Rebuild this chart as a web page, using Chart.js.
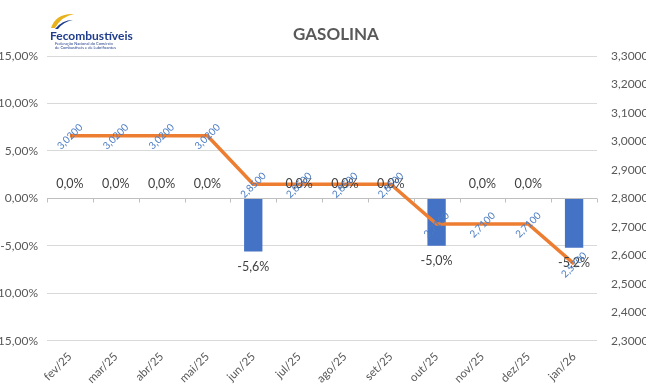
<!DOCTYPE html>
<html>
<head>
<meta charset="utf-8">
<script src="https://cdn.jsdelivr.net/npm/chart.js@4/dist/chart.umd.min.js"></script>
<style>
  body { margin: 0; background: #fff; }
  #wrap { width: 646px; height: 391px; position: relative; }
</style>
</head>
<body>
<div id="wrap"><canvas id="chart" width="646" height="391"></canvas></div>
<script>
// dados do grafico
const meses = ['fev/25','mar/25','abr/25','mai/25','jun/25','jul/25','ago/25','set/25','out/25','nov/25','dez/25','jan/26'];
const variacao = [0, 0, 0, 0, -5.6, 0, 0, 0, -5.0, 0, 0, -5.2];   // % (eixo esquerdo)
const preco = [3.02, 3.02, 3.02, 3.02, 2.85, 2.85, 2.85, 2.85, 2.71, 2.71, 2.71, 2.57]; // R$ (eixo direito)
const titulo = 'GASOLINA';

const FONT = 'Lato, "Open Sans", sans-serif';
const cinza = '#595959';

function virgula(v, d){ return v.toFixed(d).replace('.', ','); }

// logo + titulo
const cabecalho = {
  id: 'cabecalho',
  afterDraw(chart){
    const c = chart.ctx;
    c.save();
    // titulo
    c.fillStyle = cinza;
    c.font = 'bold 17px ' + FONT;
    c.textAlign = 'center';
    c.textBaseline = 'middle';
    c.fillText(titulo, 336, 35);
    // logo
    c.beginPath();
    c.moveTo(51, 28);
    c.quadraticCurveTo(56, 13, 74, 14);
    c.quadraticCurveTo(62, 16, 55, 28);
    c.closePath();
    c.fillStyle = '#e8b21c';
    c.fill();
    c.beginPath();
    c.moveTo(55, 29);
    c.quadraticCurveTo(62, 20, 73, 20);
    c.quadraticCurveTo(63, 22, 58, 29);
    c.closePath();
    c.fillStyle = '#1f3d8c';
    c.fill();
    c.fillStyle = '#1f3d8c';
    c.font = 'bold 12px ' + FONT;
    c.textAlign = 'left';
    c.textBaseline = 'alphabetic';
    c.fillText('Fecombustíveis', 50, 40);
    c.font = '4px ' + FONT;
    c.fillText('Federação Nacional do Comércio', 55, 45);
    c.fillText('de Combustíveis e de Lubrificantes', 55, 49);
    c.restore();
  }
};

// eixo no zero com marcas
const eixoZero = {
  id: 'eixoZero',
  beforeDatasetsDraw(chart){
    const c = chart.ctx, a = chart.chartArea;
    const y = Math.round(chart.scales.y.getPixelForValue(0)) + 0.5;
    const passo = (a.right - a.left) / meses.length;
    c.save();
    c.strokeStyle = '#bfbfbf';
    c.lineWidth = 1;
    c.beginPath();
    c.moveTo(a.left, y); c.lineTo(a.right, y);
    for (let i = 0; i <= meses.length; i++){
      const xx = Math.round(a.left + i * passo) + 0.5;
      c.moveTo(xx, y); c.lineTo(xx, y + 4);
    }
    c.stroke();
    c.restore();
  }
};

// rotulos de dados
const rotulos = {
  id: 'rotulos',
  afterDatasetsDraw(chart){
    const c = chart.ctx;
    c.save();
    // barras
    const mb = chart.getDatasetMeta(0);
    c.fillStyle = '#404040';
    c.font = '12.5px ' + FONT;
    c.textAlign = 'center';
    c.textBaseline = 'middle';
    mb.data.forEach((el, i) => {
      const v = variacao[i];
      const y = v < 0 ? el.y + 15 : el.y - 14;
      c.fillText(virgula(v, 1) + '%', el.x, y);
    });
    // linha
    const ml = chart.getDatasetMeta(1);
    c.fillStyle = '#4a7cc4';
    c.font = '10px ' + FONT;
    ml.data.forEach((el, i) => {
      c.save();
      c.translate(el.x, el.y + 1);
      c.rotate(-Math.PI / 4);
      c.fillText(virgula(preco[i], 4), 0, 0);
      c.restore();
    });
    c.restore();
  }
};

new Chart(document.getElementById('chart'), {
  data: {
    labels: meses,
    datasets: [
      {
        type: 'bar',
        data: variacao,
        backgroundColor: '#4472c4',
        yAxisID: 'y',
        barPercentage: 0.8,
        categoryPercentage: 0.5,
        order: 2
      },
      {
        type: 'line',
        data: preco,
        borderColor: '#ed7d31',
        borderWidth: 3.5,
        pointRadius: 0,
        tension: 0,
        yAxisID: 'y1',
        order: 1
      }
    ]
  },
  options: {
    responsive: false,
    animation: false,
    layout: { padding: { top: 56, bottom: 4, left: 0, right: 0 } },
    plugins: { legend: { display: false }, tooltip: { enabled: false } },
    scales: {
      x: {
        offset: true,
        grid: { display: false },
        border: { display: false },
        ticks: { color: cinza, font: { family: FONT, size: 11.5 }, maxRotation: 45, minRotation: 45, padding: 1 }
      },
      y: {
        position: 'left',
        min: -15, max: 15,
        afterFit(s){ s.width = 47; },
        grid: { color: '#d9d9d9', drawTicks: false },
        border: { display: false },
        ticks: { stepSize: 5, color: cinza, padding: 9, font: { family: FONT, size: 12 },
          callback: v => virgula(v, 2) + '%' }
      },
      y1: {
        position: 'right',
        min: 2.3, max: 3.3,
        afterFit(s){ s.width = 49; },
        grid: { display: false, drawTicks: false },
        border: { display: false },
        ticks: { stepSize: 0.1, color: cinza, padding: 14, font: { family: FONT, size: 12 },
          callback: v => virgula(v, 4) }
      }
    }
  },
  plugins: [cabecalho, eixoZero, rotulos]
});
</script>
</body>
</html>
